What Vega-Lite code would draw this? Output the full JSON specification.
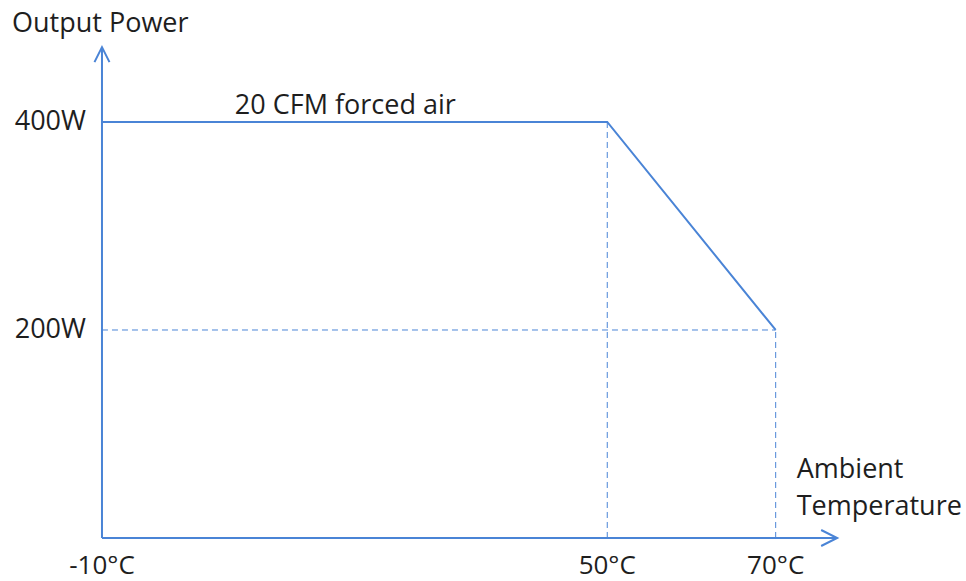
{
  "$schema": "https://vega.github.io/schema/vega-lite/v6.json",
  "width": 966,
  "height": 581,
  "padding": 0,
  "autosize": {"type": "fit", "contains": "padding"},
  "background": "white",
  "config": {"view": {"stroke": null}},
  "datasets": {
    "curve": [
      {"temp": -10, "power": 400},
      {"temp": 50, "power": 400},
      {"temp": 70, "power": 200}
    ],
    "vguides": [
      {"temp": 50, "p0": 0, "p1": 400},
      {"temp": 70, "p0": 0, "p1": 200}
    ],
    "hguides": [
      {"power": 200, "t0": -10, "t1": 70}
    ],
    "xlabels": [
      {"temp": -10, "label": "-10°C"},
      {"temp": 50, "label": "50°C"},
      {"temp": 70, "label": "70°C"}
    ],
    "ylabels": [
      {"power": 400, "label": "400W"},
      {"power": 200, "label": "200W"}
    ]
  },
  "layer": [
    {
      "data": {"name": "vguides"},
      "mark": {"type": "rule", "color": "#4a84d6", "strokeWidth": 1, "strokeDash": [6, 4]},
      "encoding": {
        "x": {"field": "temp", "type": "quantitative", "scale": {"domain": [-22.11, 92.6], "nice": false, "zero": false}, "axis": null},
        "y": {"field": "p0", "type": "quantitative", "scale": {"domain": [-41.35, 517.3], "nice": false, "zero": false}, "axis": null},
        "y2": {"field": "p1"}
      }
    },
    {
      "data": {"name": "hguides"},
      "mark": {"type": "rule", "color": "#4a84d6", "strokeWidth": 1, "strokeDash": [6, 4]},
      "encoding": {
        "y": {"field": "power", "type": "quantitative"},
        "x": {"field": "t0", "type": "quantitative"},
        "x2": {"field": "t1"}
      }
    },
    {
      "data": {"values": [{"temp": -10, "p0": 0, "p1": 472}]},
      "mark": {"type": "rule", "color": "#4a84d6", "strokeWidth": 2},
      "encoding": {
        "x": {"field": "temp", "type": "quantitative"},
        "y": {"field": "p0", "type": "quantitative"},
        "y2": {"field": "p1"}
      }
    },
    {
      "data": {"values": [{"power": 0, "t0": -10, "t1": 77.3}]},
      "mark": {"type": "rule", "color": "#4a84d6", "strokeWidth": 2},
      "encoding": {
        "y": {"field": "power", "type": "quantitative"},
        "x": {"field": "t0", "type": "quantitative"},
        "x2": {"field": "t1"}
      }
    },
    {
      "data": {"values": [{"temp": -10, "power": 472}]},
      "mark": {"type": "point", "shape": "M -1 2 L 0 0 L 1 2", "filled": false, "size": 225, "stroke": "#4a84d6", "strokeWidth": 2, "opacity": 1},
      "encoding": {
        "x": {"field": "temp", "type": "quantitative"},
        "y": {"field": "power", "type": "quantitative"}
      }
    },
    {
      "data": {"values": [{"temp": 77.3, "power": 0}]},
      "mark": {"type": "point", "shape": "M -2 -1 L 0 0 L -2 1", "filled": false, "size": 256, "stroke": "#4a84d6", "strokeWidth": 2, "opacity": 1},
      "encoding": {
        "x": {"field": "temp", "type": "quantitative"},
        "y": {"field": "power", "type": "quantitative"}
      }
    },
    {
      "data": {"name": "curve"},
      "mark": {"type": "line", "color": "#4a84d6", "strokeWidth": 2},
      "encoding": {
        "x": {"field": "temp", "type": "quantitative"},
        "y": {"field": "power", "type": "quantitative"}
      }
    },
    {
      "data": {"name": "xlabels"},
      "mark": {"type": "text", "font": "Open Sans", "fontSize": 26, "color": "#1e1e1e", "align": "center", "baseline": "middle"},
      "encoding": {
        "x": {"field": "temp", "type": "quantitative"},
        "y": {"datum": -26.5, "type": "quantitative"},
        "text": {"field": "label"}
      }
    },
    {
      "data": {"name": "ylabels"},
      "mark": {"type": "text", "font": "Open Sans", "fontSize": 27, "color": "#1e1e1e", "align": "right", "baseline": "middle"},
      "encoding": {
        "x": {"datum": -11.9, "type": "quantitative"},
        "y": {"field": "power", "type": "quantitative"},
        "text": {"field": "label"}
      }
    },
    {
      "data": {"values": [
        {"temp": -10.2, "power": 494, "label": "Output Power"},
        {"temp": 18.9, "power": 415, "label": "20 CFM forced air"}
      ]},
      "mark": {"type": "text", "font": "Open Sans", "fontSize": 27, "color": "#1e1e1e", "align": "center", "baseline": "middle"},
      "encoding": {
        "x": {"field": "temp", "type": "quantitative"},
        "y": {"field": "power", "type": "quantitative"},
        "text": {"field": "label"}
      }
    },
    {
      "data": {"values": [
        {"temp": 72.5, "power": 65.4, "label": "Ambient"},
        {"temp": 72.5, "power": 30.1, "label": "Temperature"}
      ]},
      "mark": {"type": "text", "font": "Open Sans", "fontSize": 27, "color": "#1e1e1e", "align": "left", "baseline": "middle"},
      "encoding": {
        "x": {"field": "temp", "type": "quantitative"},
        "y": {"field": "power", "type": "quantitative"},
        "text": {"field": "label"}
      }
    }
  ]
}
